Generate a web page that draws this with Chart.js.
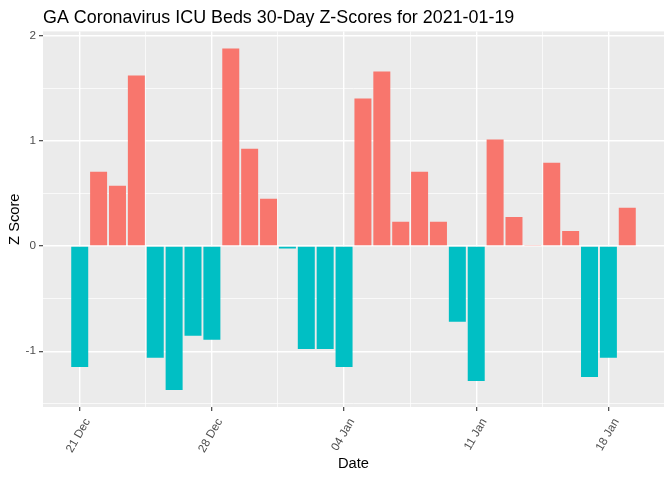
<!DOCTYPE html>
<html>
<head>
<meta charset="utf-8">
<script src="https://cdn.jsdelivr.net/npm/chart.js@4.4.1/dist/chart.umd.min.js"></script>
<style>
html, body { margin: 0; padding: 0; background: #ffffff; }
#wrap { width: 672px; height: 480px; }
</style>
</head>
<body>
<div id="wrap"><canvas id="c" width="672" height="480"></canvas></div>
<script>
const chartTitle = 'GA Coronavirus ICU Beds 30-Day Z-Scores for 2021-01-19';
const dates = [
  '2020-12-21','2020-12-22','2020-12-23','2020-12-24','2020-12-25','2020-12-26','2020-12-27',
  '2020-12-28','2020-12-29','2020-12-30','2020-12-31','2021-01-01','2021-01-02','2021-01-03',
  '2021-01-04','2021-01-05','2021-01-06','2021-01-07','2021-01-08','2021-01-09','2021-01-10',
  '2021-01-11','2021-01-12','2021-01-13','2021-01-14','2021-01-15','2021-01-16','2021-01-17',
  '2021-01-18','2021-01-19'
];
const zScores = [
  -1.149, 0.705, 0.571, 1.619, -1.063, -1.368, -0.854,
  -0.892, 1.876, 0.924, 0.448, -0.025, -0.978, -0.978,
  -1.149, 1.400, 1.657, 0.229, 0.705, 0.229, -0.721,
  -1.283, 1.010, 0.276, 0.010, 0.790, 0.143, -1.244,
  -1.063, 0.362
];
const xTickValues = [0, 3.5, 7, 10.5, 14, 17.5, 21, 24.5, 28];
const xTickLabels = ['21 Dec', '', '28 Dec', '', '04 Jan', '', '11 Jan', '', '18 Jan'];
const yTickValues = [-1.5, -1, -0.5, 0, 0.5, 1, 1.5, 2];
const yTickLabels = ['', '-1', '', '0', '', '1', '', '2'];
const xLimits = [-1.945, 30.945];
const yLimits = [-1.530, 2.038];

const posColor = '#F8766D';
const negColor = '#00BFC4';
const FONT = "'Liberation Sans', Arial, Helvetica, sans-serif";
const DAY = 86400000;
const t0 = Date.parse(dates[0] + 'T00:00:00Z');
const points = dates.map((d, i) => ({ x: Math.round((Date.parse(d + 'T00:00:00Z') - t0) / DAY), y: zScores[i] }));
const colors = zScores.map(v => v >= 0 ? posColor : negColor);

const bgPlugin = {
  id: 'panelBg',
  beforeDraw(chart) {
    const { ctx, chartArea: a } = chart;
    ctx.save();
    ctx.fillStyle = '#ffffff';
    ctx.fillRect(0, 0, chart.width, chart.height);
    ctx.fillStyle = '#EBEBEB';
    ctx.fillRect(a.left, a.top, a.right - a.left, a.bottom - a.top);
    ctx.restore();
  }
};
const titlePlugin = {
  id: 'ggTitle',
  afterDraw(chart) {
    const { ctx, chartArea: a } = chart;
    ctx.save();
    ctx.fillStyle = '#000000';
    ctx.font = '17.9px ' + FONT;
    ctx.textAlign = 'left';
    ctx.textBaseline = 'alphabetic';
    ctx.fillText(chartTitle, a.left, 23);
    ctx.restore();
  }
};

new Chart(document.getElementById('c'), {
  type: 'bar',
  data: {
    datasets: [{
      data: points,
      backgroundColor: colors,
      borderWidth: 0,
      barPercentage: 0.9,
      categoryPercentage: 1.0
    }]
  },
  options: {
    responsive: false,
    animation: false,
    devicePixelRatio: 1,
    layout: { padding: { top: 31.4, right: 8, bottom: 0, left: 0 } },
    plugins: { legend: { display: false }, tooltip: { enabled: false }, title: { display: false } },
    scales: {
      x: {
        type: 'linear',
        min: xLimits[0],
        max: xLimits[1],
        offset: false,
        afterBuildTicks: s => { s.ticks = xTickValues.map(v => ({ value: v })); },
        afterFit: s => { s.height = 73; },
        ticks: {
          autoSkip: false, minRotation: 60, maxRotation: 60, padding: 5, labelOffset: 8,
          color: '#4D4D4D', font: { family: FONT, size: 11.7 },
          callback: (v, i) => xTickLabels[i]
        },
        grid: {
          offset: false,
          color: '#FFFFFF',
          lineWidth: c => (xTickLabels[c.index] ? 1.4 : 0.7),
          drawTicks: true,
          tickLength: 4,
          tickWidth: 1.1,
          tickColor: c => (xTickLabels[c.index] ? '#333333' : 'rgba(0,0,0,0)')
        },
        border: { display: false },
        title: { display: true, text: 'Date', color: '#000000', font: { family: FONT, size: 14.7 }, padding: { top: 0, bottom: 7.2 } }
      },
      y: {
        type: 'linear',
        min: yLimits[0],
        max: yLimits[1],
        afterBuildTicks: s => { s.ticks = yTickValues.map(v => ({ value: v })); },
        afterFit: s => { s.width = 43; },
        ticks: {
          autoSkip: false, padding: 3,
          color: '#4D4D4D', font: { family: FONT, size: 11.7 },
          callback: (v, i) => yTickLabels[i]
        },
        grid: {
          color: '#FFFFFF',
          lineWidth: c => (yTickLabels[c.index] ? 1.4 : 0.7),
          drawTicks: true,
          tickLength: 4,
          tickWidth: 1.1,
          tickColor: c => (yTickLabels[c.index] ? '#333333' : 'rgba(0,0,0,0)')
        },
        border: { display: false },
        title: { display: true, text: 'Z Score', color: '#000000', font: { family: FONT, size: 14.7 }, padding: { top: 5.7, bottom: 0 } }
      }
    }
  },
  plugins: [bgPlugin, titlePlugin]
});
</script>
</body>
</html>
